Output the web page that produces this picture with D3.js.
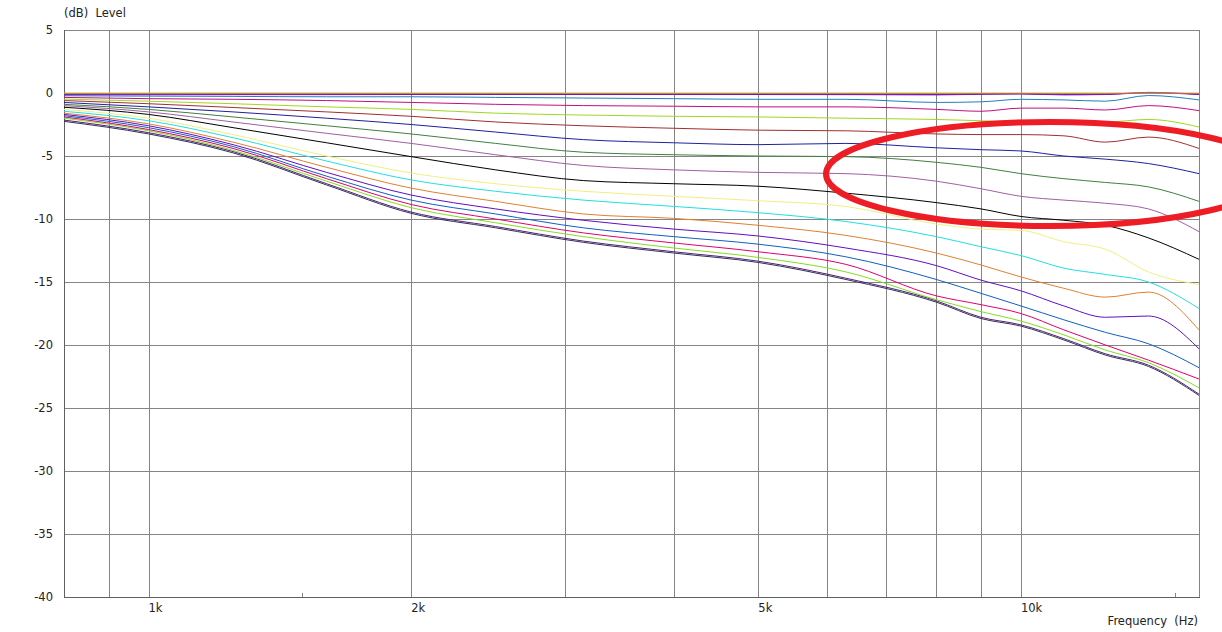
<!DOCTYPE html>
<html>
<head>
<meta charset="utf-8">
<script src="https://cdn.jsdelivr.net/npm/d3@7"></script>
<style>
  html, body { margin: 0; padding: 0; background: #ffffff; }
  svg { display: block; }
  text { font-family: "DejaVu Sans", Verdana, sans-serif; font-size: 11.5px; fill: #222; }
</style>
</head>
<body>
<svg id="chart" width="1222" height="632"></svg>
<script>
// ---------- data ----------
const freqs = [800, 1000, 1250, 1600, 2000, 2500, 3150, 4000, 5000, 6300, 8000, 9000, 10000, 11200, 12500, 14000, 16000];

const s01 = [0, 0, 0, 0, 0, 0, 0, 0, 0, 0, 0, 0, 0, 0, 0, 0, 0];
const s02 = [-0.1, -0.1, -0.1, -0.1, -0.1, -0.1, -0.1, -0.1, -0.1, -0.1, -0.12, -0.08, -0.05, -0.12, -0.1, 0.05, -0.1];
const s20 = [-0.14, -0.14, -0.13, -0.13, -0.12, -0.12, -0.12, -0.12, -0.12, -0.13, -0.15, -0.1, -0.08, -0.15, -0.12, 0.02, -0.12];
const s03 = [-0.22, -0.25, -0.27, -0.3, -0.3, -0.35, -0.4, -0.45, -0.5, -0.5, -0.75, -0.7, -0.5, -0.55, -0.65, -0.2, -0.55];
const s04 = [-0.35, -0.45, -0.5, -0.6, -0.75, -0.9, -1.0, -1.05, -1.1, -1.1, -1.3, -1.45, -1.2, -1.2, -1.35, -1.0, -1.4];
const s05 = [-0.48, -0.65, -0.85, -1.1, -1.3, -1.6, -1.75, -1.85, -1.9, -2.0, -2.1, -2.2, -2.3, -2.3, -2.3, -2.1, -2.7];
const s06 = [-0.6, -0.85, -1.15, -1.5, -1.85, -2.3, -2.6, -2.8, -2.95, -3.0, -3.25, -3.3, -3.3, -3.4, -3.9, -3.5, -4.4];
const s07 = [-0.75, -1.1, -1.5, -2.0, -2.5, -3.1, -3.7, -3.95, -4.1, -4.0, -4.35, -4.5, -4.6, -5.0, -5.25, -5.6, -6.4];
const s08 = [-0.9, -1.3, -1.9, -2.6, -3.25, -4.0, -4.7, -4.9, -5.0, -5.05, -5.5, -5.9, -6.4, -6.8, -7.1, -7.45, -8.6];
const s09 = [-1.0, -1.5, -2.3, -3.2, -4.0, -4.9, -5.75, -6.1, -6.3, -6.4, -7.0, -7.6, -8.2, -8.5, -8.75, -9.2, -11.0];
const s10 = [-1.13, -1.7, -2.75, -3.95, -5.05, -6.1, -6.95, -7.2, -7.4, -7.95, -8.7, -9.2, -9.8, -10.1, -10.5, -11.5, -13.2];
const s11 = [-1.3, -2.0, -3.3, -5.0, -6.35, -7.2, -7.8, -8.2, -8.55, -9.0, -10.4, -10.8, -10.9, -11.8, -12.4, -14.2, -15.2];
const s12 = [-1.45, -2.2, -3.55, -5.4, -6.9, -7.8, -8.5, -9.0, -9.5, -10.2, -11.4, -12.2, -12.9, -13.9, -14.4, -15.0, -17.1];
const s13 = [-1.6, -2.45, -3.9, -5.9, -7.55, -8.6, -9.6, -9.95, -10.5, -11.3, -12.7, -13.65, -14.6, -15.5, -16.2, -15.8, -18.8];
const s14 = [-1.7, -2.6, -4.1, -6.3, -8.1, -9.2, -10.1, -10.8, -11.35, -12.3, -13.7, -14.85, -15.7, -16.9, -17.8, -17.7, -20.3];
const s15 = [-1.8, -2.75, -4.25, -6.6, -8.5, -9.6, -10.7, -11.4, -12.0, -13.0, -14.8, -15.9, -16.9, -18.0, -19.0, -19.9, -21.8];
const s16 = [-1.9, -2.9, -4.4, -6.8, -8.85, -10.0, -11.1, -11.9, -12.6, -13.6, -16.1, -16.8, -17.5, -18.8, -20.0, -21.2, -22.7];
const s17 = [-2.0, -3.0, -4.55, -7.0, -9.1, -10.3, -11.4, -12.3, -13.05, -14.2, -16.4, -17.35, -18.1, -19.2, -20.4, -21.4, -23.4];
const s18 = [-2.15, -3.15, -4.65, -7.2, -9.45, -10.6, -11.75, -12.6, -13.35, -14.7, -16.5, -17.8, -18.4, -19.5, -20.7, -21.6, -23.9];
const s19 = [-2.25, -3.25, -4.75, -7.3, -9.55, -10.7, -11.85, -12.7, -13.45, -14.8, -16.6, -17.9, -18.5, -19.6, -20.8, -21.7, -24.0];

const seriesValues = [s01, s02, s20, s03, s04, s05, s06, s07, s08, s09, s10, s11, s12, s13, s14, s15, s16, s17, s18, s19];
const seriesColors = ["#e8b030", "#8010b0", "#6020a0", "#2080c0", "#c01080", "#a0d820", "#a03030", "#2020a0", "#408040", "#a060a0", "#000000",
                      "#f0f080", "#20e0e0", "#e08030", "#6010c0", "#1060c0", "#e00070", "#80e020", "#502070", "#303060"];

const yTicks = [5, 0, -5, -10, -15, -20, -25, -30, -35, -40];
const xGrid = [900, 1000, 2000, 3000, 4000, 5000, 6000, 7000, 8000, 9000, 10000];
const xMinorTicks = [1500, 15000];
const xLabels = [{ f: 1000, t: "1k" }, { f: 2000, t: "2k" }, { f: 5000, t: "5k" }, { f: 10000, t: "10k" }];
const yTitle = "(dB)  Level";
const xTitle = "Frequency  (Hz)";

// ---------- layout ----------
const svg = d3.select("#chart");
const L = 64, R = 1199, T = 30, B = 597;
const x = d3.scaleLog().domain([800, 16000]).range([L, R]);
const y = d3.scaleLinear().domain([-40, 5]).range([B, T]);
const gridColor = "#858585";

// horizontal grid
svg.append("g").selectAll("line").data(yTicks).join("line")
  .attr("x1", L).attr("x2", R)
  .attr("y1", d => Math.round(y(d)) + 0.5).attr("y2", d => Math.round(y(d)) + 0.5)
  .attr("stroke", gridColor).attr("stroke-width", 1).attr("shape-rendering", "crispEdges");

// vertical grid
svg.append("g").selectAll("line").data(xGrid).join("line")
  .attr("x1", d => Math.round(x(d)) + 0.5).attr("x2", d => Math.round(x(d)) + 0.5)
  .attr("y1", T).attr("y2", B)
  .attr("stroke", gridColor).attr("stroke-width", 1).attr("shape-rendering", "crispEdges");

// minor ticks on bottom
svg.append("g").selectAll("line").data(xMinorTicks).join("line")
  .attr("x1", d => Math.round(x(d)) + 0.5).attr("x2", d => Math.round(x(d)) + 0.5)
  .attr("y1", B - 4).attr("y2", B)
  .attr("stroke", gridColor).attr("stroke-width", 1).attr("shape-rendering", "crispEdges");

// frame left/right/bottom
svg.append("line").attr("x1", L + 0.5).attr("x2", L + 0.5).attr("y1", T).attr("y2", B + 1)
  .attr("stroke", "#606060").attr("shape-rendering", "crispEdges");
svg.append("line").attr("x1", R + 0.5).attr("x2", R + 0.5).attr("y1", T).attr("y2", B + 1)
  .attr("stroke", gridColor).attr("shape-rendering", "crispEdges");
svg.append("line").attr("x1", L).attr("x2", R + 1).attr("y1", B + 0.5).attr("y2", B + 0.5)
  .attr("stroke", "#606060").attr("shape-rendering", "crispEdges");

// y labels
svg.append("g").selectAll("text").data(yTicks).join("text")
  .attr("x", 53).attr("y", d => y(d)).attr("dy", "0.35em")
  .attr("text-anchor", "end").text(d => d);

// x labels
svg.append("g").selectAll("text").data(xLabels).join("text")
  .attr("x", d => x(d.f)).attr("y", 612)
  .attr("text-anchor", "start").text(d => d.t);

// titles
svg.append("text").attr("x", 64).attr("y", 17)
  .style("white-space", "pre").text(yTitle);
svg.append("text").attr("x", 1198).attr("y", 625).attr("text-anchor", "end")
  .style("white-space", "pre").text(xTitle);

// curves
svg.append("clipPath").attr("id", "plotclip").append("rect")
  .attr("x", L).attr("y", T).attr("width", R - L).attr("height", B - T);
const line = d3.line().x((d, i) => x(freqs[i])).y(d => y(d)).curve(d3.curveMonotoneX);
const curveG = svg.append("g").attr("clip-path", "url(#plotclip)");
const order = d3.range(seriesValues.length).reverse();
curveG.selectAll("path").data(order).join("path")
  .attr("d", i => line(seriesValues[i]))
  .attr("fill", "none")
  .attr("stroke", i => seriesColors[i])
  .attr("stroke-width", 1);

// red annotation ellipse
svg.append("ellipse")
  .attr("cx", 1050).attr("cy", 174).attr("rx", 224).attr("ry", 52)
  .attr("fill", "none").attr("stroke", "#ee1c24").attr("stroke-width", 6);
</script>
</body>
</html>
